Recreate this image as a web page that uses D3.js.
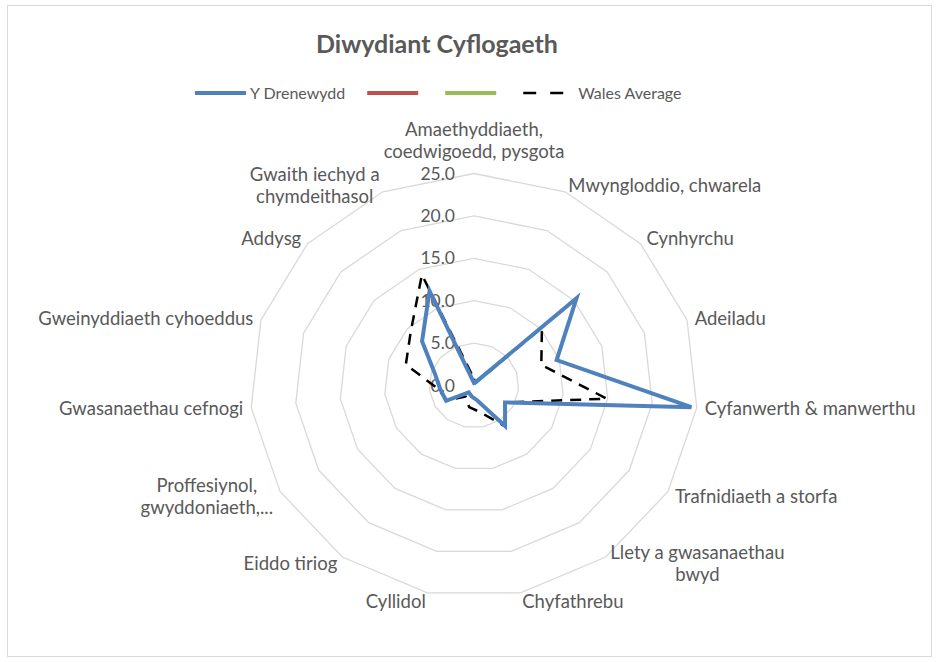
<!DOCTYPE html>
<html><head><meta charset="utf-8">
<script src="https://cdn.jsdelivr.net/npm/d3@7"></script>
<style>
body{margin:0;background:#fff}
svg text{font-family:Lato,"Open Sans",sans-serif;fill:#595959}
</style>
</head><body>
<svg id="c" width="938" height="662"></svg>
<script>
const title = "Diwydiant Cyflogaeth";
const categories = [
  "Amaethyddiaeth,\ncoedwigoedd, pysgota",
  "Mwyngloddio, chwarela",
  "Cynhyrchu",
  "Adeiladu",
  "Cyfanwerth & manwerthu",
  "Trafnidiaeth a storfa",
  "Llety a gwasanaethau\nbwyd",
  "Chyfathrebu",
  "Cyllidol",
  "Eiddo tiriog",
  "Proffesiynol,\ngwyddoniaeth,...",
  "Gwasanaethau cefnogi",
  "Gweinyddiaeth cyhoeddus",
  "Addysg",
  "Gwaith iechyd a\nchymdeithasol"
];
const drenewydd    = [0.3, 0.4, 15.4, 9.7, 24.4, 4.0, 5.9, 1.8, 1.3, 1.0, 3.6, 3.8, 4.6, 7.8, 12.2];
const walesAverage = [0.8, 0.3, 10.2, 7.9, 14.9, 4.0, 6.0, 3.2, 2.6, 1.6, 3.5, 4.0, 8.0, 9.5, 14.3];
const seriesNames  = ["Y Drenewydd", "", "", "Wales Average"];
const seriesColors = ["#4f81bd", "#c0504d", "#9bbb59", "#000000"];
const tickValues   = [0, 5, 10, 15, 20, 25];

const svg = d3.select("#c");
const cx = 474, cy = 385.5;
const n = categories.length;
const angle = d3.scaleLinear().domain([0, n]).range([0, 2 * Math.PI]);
const rX = d3.scaleLinear().domain([0, 25]).range([0, 224]);
const rY = d3.scaleLinear().domain([0, 25]).range([0, 212]);
const px = (v, i) => cx + rX(v) * Math.sin(angle(i));
const py = (v, i) => cy - rY(v) * Math.cos(angle(i));

// chart border
svg.append("rect").attr("x", 7.5).attr("y", 5.5).attr("width", 924).attr("height", 651)
  .attr("fill", "none").attr("stroke", "#d9d9d9").attr("stroke-width", 1);

// title
svg.append("text").attr("x", 437).attr("y", 53).attr("text-anchor", "middle")
  .style("font-size", "25px").style("font-weight", "bold").text(title);

// grid rings
const ring = d3.line().curve(d3.curveLinearClosed);
svg.append("g").selectAll("path").data(tickValues.filter(v => v > 0)).join("path")
  .attr("d", v => ring(d3.range(n).map(i => [px(v, i), py(v, i)])))
  .attr("fill", "none").attr("stroke", "#d9d9d9").attr("stroke-width", 1.3);

// radial tick labels
svg.append("g").selectAll("text").data(tickValues).join("text")
  .attr("x", cx - 19).attr("y", v => cy - rY(v)).attr("dy", "0.35em")
  .attr("text-anchor", "end").style("font-size", "17.5px")
  .text(d3.format(".1f"));

// category labels
const labG = svg.append("g");
categories.forEach((c, i) => {
  const a = angle(i), s = Math.sin(a), co = Math.cos(a);
  const lx = cx + (rX(25) + 8) * s, ly = cy - (rY(25) + 8) * co;
  const g = labG.append("g");
  const lines = c.split("\n");
  const t = g.append("text").attr("text-anchor", "middle").style("font-size", "18.5px");
  lines.forEach((l, k) => t.append("tspan").attr("x", 0).attr("dy", k === 0 ? 0 : 22).text(l));
  const bb = t.node().getBBox();
  let ox, oy;
  if (Math.abs(s) < 0.1) ox = lx - (bb.x + bb.width / 2);
  else if (s > 0) ox = lx - bb.x;
  else ox = lx - (bb.x + bb.width);
  if (Math.abs(s) < 0.1) oy = (ly - 4) - (bb.y + bb.height * (co > 0 ? 1 : 0));
  else oy = ly - (bb.y + bb.height / 2);
  g.attr("transform", `translate(${ox},${oy})`);
});

// series
const line = d3.line().x((d, i) => px(d, i)).y((d, i) => py(d, i)).curve(d3.curveLinearClosed);
svg.append("path").datum(walesAverage).attr("d", line)
  .attr("fill", "none").attr("stroke", seriesColors[3]).attr("stroke-width", 2.5)
  .attr("stroke-dasharray", "11,8").attr("stroke-linejoin", "round");
svg.append("path").datum(drenewydd).attr("d", line)
  .attr("fill", "none").attr("stroke", seriesColors[0]).attr("stroke-width", 4)
  .attr("stroke-linejoin", "miter");

// legend
const legG = svg.append("g");
let x = 195; const ly = 93;
seriesNames.forEach((name, k) => {
  const l = legG.append("line").attr("x1", x).attr("x2", x + 51).attr("y1", ly).attr("y2", ly)
    .attr("stroke", seriesColors[k]).attr("stroke-width", k === 3 ? 2.5 : 4);
  if (k === 3) l.attr("stroke-dasharray", "13,14");
  x += 51;
  if (name) {
    const t = legG.append("text").attr("x", x + 4).attr("y", ly).attr("dy", "0.35em")
      .style("font-size", "16px").text(name);
    x += 4 + t.node().getComputedTextLength() + 22;
  } else {
    x += 27;
  }
});
</script>
</body></html>
